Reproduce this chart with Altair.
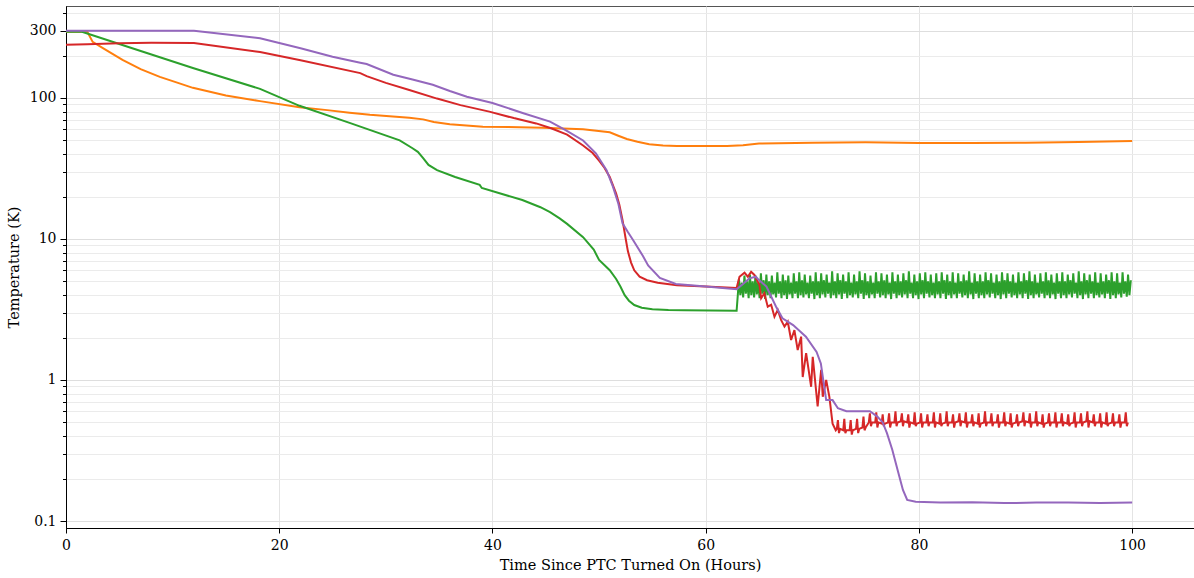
import altair as alt
import pandas as pd

# ---------------- data ----------------
orange_t = [0, 2.0, 2.5, 3.5, 5.3, 7.0, 8.8, 10.5, 11.9, 15, 18.2, 21.9, 24.5, 26.6, 28.5,
            32.2, 33.5, 34.5, 36.0, 39.1, 44.7, 48.5, 51.0, 51.8, 52.6, 53.6, 54.7, 56.0,
            57.3, 62.0, 63.5, 65.0, 70, 75, 80, 85, 90, 95, 100]
orange_y = [295, 295, 250, 225, 186, 160, 141, 128, 118, 104, 95, 86, 82, 78.7, 76,
            72.5, 70.5, 67.5, 65, 62.6, 61.6, 60, 57.1, 54, 51.2, 49, 47.0, 46.0,
            45.7, 45.7, 46.3, 47.5, 48.2, 48.5, 48.0, 48.0, 48.2, 48.8, 49.5]

green_t = [0, 1.5, 6, 11.9, 18.2, 21.9, 26.6, 31.3, 32.5, 33.0, 33.5, 34.0, 34.8, 36.5,
           38.8, 39.0, 42.8, 44.5, 45.4, 46.3, 47.0, 48.5, 49.5, 50.0, 51.0, 51.6, 52.0,
           52.4, 52.8, 53.3, 54.0, 55.0, 56.5, 58, 62.9]
green_y = [295, 295, 228, 163, 116, 88, 66.6, 50, 44, 41.5, 37.5, 33.5, 30.8, 27.5,
           24.2, 23.0, 18.9, 16.8, 15.5, 14.0, 12.8, 10.3, 8.4, 7.1, 6.0, 5.2, 4.6,
           4.0, 3.65, 3.4, 3.25, 3.17, 3.13, 3.12, 3.1]

# green oscillation after 63 h (one cycle ~0.514 h): peak, trough, secondary bump
green_osc_start = 63.0
green_osc_period = 0.514
green_hi = [5.2, 5.5, 5.6, 5.5, 5.7, 5.6, 5.5, 5.8, 5.6, 5.5,
            5.7, 5.8, 5.6, 5.5, 5.8, 5.7, 5.6, 5.9, 5.7, 5.6,
            5.8, 5.6, 5.9, 5.7, 5.5, 5.8, 5.7, 5.6, 5.8, 5.6,
            5.7, 5.9, 5.6, 5.7, 5.8, 5.6, 5.7, 5.8, 5.6, 5.8,
            5.7, 5.6, 5.9, 5.7, 5.6, 5.8, 5.7, 5.6, 5.8, 5.7,
            5.6, 5.8, 5.7, 5.9, 5.6, 5.7, 5.8, 5.6, 5.7, 5.8,
            5.6, 5.7, 5.9, 5.7, 5.6, 5.8, 5.7, 5.6, 5.8, 5.7,
            5.8, 5.6]
green_lo = [3.9, 3.85, 3.8, 3.85, 3.8, 3.75, 3.8, 3.85, 3.8, 3.75,
            3.8, 3.8, 3.85, 3.8, 3.75, 3.8, 3.85, 3.8, 3.8, 3.75,
            3.8, 3.85, 3.8, 3.75, 3.8, 3.8, 3.85, 3.8, 3.75, 3.8,
            3.85, 3.8, 3.8, 3.75, 3.8, 3.85, 3.8, 3.8, 3.75, 3.8,
            3.8, 3.85, 3.8, 3.75, 3.8, 3.8, 3.85, 3.8, 3.75, 3.8,
            3.85, 3.8, 3.8, 3.75, 3.8, 3.85, 3.8, 3.8, 3.75, 3.8,
            3.8, 3.85, 3.8, 3.75, 3.8, 3.8, 3.85, 3.8, 3.75, 3.8,
            3.85, 3.9]
green_sub = [4.9, 5.0, 5.0, 4.9, 5.1, 5.0, 4.9, 5.0, 5.1, 4.9,
             5.0, 5.1, 4.9, 5.0, 5.0, 5.1, 4.9, 5.0, 5.1, 5.0,
             4.9, 5.0, 5.1, 5.0, 4.9, 5.0, 5.1, 4.9, 5.0, 5.0,
             5.1, 4.9, 5.0, 5.1, 5.0, 4.9, 5.0, 5.1, 5.0, 4.9,
             5.0, 5.1, 4.9, 5.0, 5.0, 5.1, 4.9, 5.0, 5.1, 5.0,
             4.9, 5.0, 5.1, 5.0, 4.9, 5.0, 5.1, 4.9, 5.0, 5.0,
             5.1, 4.9, 5.0, 5.1, 5.0, 4.9, 5.0, 5.1, 5.0, 4.9,
             5.0, 5.1]
green_mid = [4.0, 4.1, 4.0, 4.05, 4.1, 4.0, 4.05, 4.1, 4.0, 4.05,
             4.1, 4.0, 4.05, 4.1, 4.0, 4.05, 4.1, 4.0, 4.05, 4.1,
             4.0, 4.05, 4.1, 4.0, 4.05, 4.1, 4.0, 4.05, 4.1, 4.0,
             4.05, 4.1, 4.0, 4.05, 4.1, 4.0, 4.05, 4.1, 4.0, 4.05,
             4.1, 4.0, 4.05, 4.1, 4.0, 4.05, 4.1, 4.0, 4.05, 4.1,
             4.0, 4.05, 4.1, 4.0, 4.05, 4.1, 4.0, 4.05, 4.1, 4.0,
             4.05, 4.1, 4.0, 4.05, 4.1, 4.0, 4.05, 4.1, 4.0, 4.05,
             4.1, 4.0]

red_t = [0, 2, 5, 8, 12, 18.2, 22, 27.6, 28.2, 30.0, 32.2, 34.8, 37.0, 39.7, 42.0, 44.1,
         45.5, 47.0, 48.5, 49.4, 50.0, 50.5, 51.0, 51.6, 51.9, 52.2, 52.5, 52.7, 53.0,
         53.3, 53.8, 54.5, 55.5, 57.3, 60.0, 62.9,
         63.17, 63.64, 63.95, 64.26, 64.57, 65.04, 65.2, 65.5, 65.82, 66.14, 66.45, 66.76,
         67.08, 67.39, 67.7, 68.01, 68.32, 68.63, 68.95, 69.1, 69.42, 69.89, 70.04, 70.5,
         70.83, 70.98, 71.3, 71.6, 71.9, 72.2]
red_y = [238, 240, 244, 246, 245, 212, 185, 150, 143, 128, 114, 99, 89, 80, 72, 66,
         61, 55, 46, 40.7, 36, 32, 27.5, 21, 17.5, 13.6, 10, 8.2, 6.8,
         6.0, 5.4, 5.1, 4.9, 4.7, 4.6, 4.5,
         5.4, 5.77, 5.4, 5.86, 5.56, 4.72, 3.8, 4.12, 3.31, 3.42, 2.81, 3.14,
         2.66, 2.39, 2.59, 1.92, 2.26, 1.63, 2.03, 1.05, 1.55, 0.895, 1.46, 0.65,
         1.18, 0.76, 1.0, 0.76, 0.49, 0.44]

# red oscillation after 72.3 h (one cycle ~0.6 h): baseline, spike up, spike down
red_osc_start = 72.3
red_osc_period = 0.6
red_base = [0.45, 0.44, 0.44, 0.45, 0.46,
            0.50, 0.50, 0.49, 0.50, 0.50, 0.51, 0.50, 0.49, 0.50, 0.50,
            0.50, 0.49, 0.50, 0.50, 0.51, 0.50, 0.50, 0.49, 0.50, 0.50,
            0.50, 0.50, 0.49, 0.50, 0.51, 0.50, 0.50, 0.49, 0.50, 0.50,
            0.50, 0.49, 0.50, 0.50, 0.51, 0.50, 0.50, 0.49, 0.50, 0.50,
            0.50]
red_hi = [0.52, 0.53, 0.52, 0.53, 0.55,
          0.58, 0.59, 0.57, 0.58, 0.60, 0.58, 0.57, 0.59, 0.58, 0.57,
          0.59, 0.58, 0.60, 0.57, 0.58, 0.59, 0.57, 0.58, 0.60, 0.58,
          0.57, 0.59, 0.58, 0.57, 0.59, 0.58, 0.60, 0.57, 0.58, 0.59,
          0.58, 0.57, 0.59, 0.58, 0.60, 0.57, 0.58, 0.59, 0.58, 0.57,
          0.59]
red_lo = [0.42, 0.42, 0.41, 0.42, 0.44,
          0.47, 0.46, 0.47, 0.46, 0.47, 0.47, 0.46, 0.47, 0.46, 0.47,
          0.46, 0.47, 0.47, 0.46, 0.47, 0.46, 0.47, 0.46, 0.47, 0.47,
          0.46, 0.47, 0.46, 0.47, 0.47, 0.46, 0.47, 0.46, 0.47, 0.46,
          0.47, 0.47, 0.46, 0.47, 0.46, 0.47, 0.46, 0.47, 0.47, 0.46,
          0.47]

purple_t = [0, 12, 18.2, 22, 25, 27.6, 28.2, 30.7, 32.5, 34.4, 36.0, 37.6, 40, 42.9, 45.4,
            46.9, 48.5, 49.7, 50.7, 51.3, 51.8, 52.2, 52.7, 53.2, 54.1, 54.6, 55.7, 57.2,
            60.0, 62.9, 63.5, 64.1, 64.7, 64.9, 65.7, 66.6, 67.2, 68.2, 69.4, 70.4, 70.8,
            71.3, 71.9, 72.4, 73.2, 75.4, 76.1, 76.6, 77.0, 77.5, 78.0, 78.5, 78.9, 79.7,
            82, 85, 88, 91, 94, 97, 100]
purple_y = [300, 300, 265, 225, 196, 178, 174, 146, 135, 124, 112, 102, 92, 78, 68,
            59, 50, 40.5, 30.8, 23.5, 17.9, 12.9, 11.2, 9.8, 7.6, 6.5, 5.3, 4.8,
            4.6, 4.4, 4.8, 5.26, 5.4, 5.2, 4.6, 3.31, 2.74, 2.45, 2.03, 1.58, 1.31,
            0.72, 0.72, 0.63, 0.60, 0.60, 0.55, 0.50, 0.42, 0.32, 0.23, 0.166, 0.141, 0.137,
            0.135, 0.136, 0.134, 0.135, 0.135, 0.134, 0.135]

x_ticks = [0, 20, 40, 60, 80, 100]
y_labels = [0.1, 1, 10, 100, 300]
y_minor = [0.1, 0.2, 0.3, 0.4, 0.5, 0.6, 0.7, 0.8, 0.9,
           1, 2, 3, 4, 5, 6, 7, 8, 9,
           10, 20, 30, 40, 50, 60, 70, 80, 90,
           100, 200, 300, 400]

# ---------------- build tables ----------------
g_t, g_y = list(green_t), list(green_y)
for i in range(len(green_hi)):
    s = green_osc_start + i * green_osc_period
    g_t += [s, s + 0.12, s + 0.25, s + 0.38]
    g_y += [green_lo[i], green_hi[i], green_mid[i], green_sub[i]]

r_t, r_y = list(red_t), list(red_y)
for i in range(len(red_base)):
    s = red_osc_start + i * red_osc_period
    r_t += [s, s + 0.1, s + 0.2, s + 0.3]
    r_y += [red_base[i], red_hi[i], red_lo[i], red_base[i]]

df_orange = pd.DataFrame({"t": orange_t, "y": orange_y})
df_green = pd.DataFrame({"t": g_t, "y": g_y})
df_red = pd.DataFrame({"t": r_t, "y": r_y})
df_purple = pd.DataFrame({"t": purple_t, "y": purple_y})

FONT = "DejaVu Serif"

x_enc = alt.X("t:Q",
              scale=alt.Scale(domain=[0, 105.8], nice=False, zero=False),
              axis=alt.Axis(values=x_ticks, title="Time Since PTC Turned On (Hours)",
                            grid=True, gridColor="#e4e4e4", tickSize=5, labelPadding=5,
                            titlePadding=6, format="d", domainColor="black",
                            tickColor="black", labelFlush=False))
y_scale = alt.Scale(type="log", domain=[0.0892, 449], nice=False)

minor_axis = alt.Axis(orient="left", values=y_minor, labels=False, tickSize=3.5,
                      grid=True, gridColor="#ebebeb", title=None, domainColor="black",
                      tickColor="black")
major_axis = alt.Axis(orient="left", values=y_labels, format="~g", tickSize=6,
                      grid=True, gridColor="#dedede", title="Temperature (K)",
                      titlePadding=8, labelPadding=4, domainColor="black",
                      tickColor="black", labelFlush=False)


def line(df, color, axis):
    return alt.Chart(df).mark_line(color=color, strokeWidth=2, clip=True).encode(
        x=x_enc, y=alt.Y("y:Q", scale=y_scale, axis=axis))


chart = alt.layer(
    line(df_orange, "#ff7f0e", minor_axis),
    line(df_green, "#2ca02c", major_axis),
    line(df_red, "#d62728", None),
    line(df_purple, "#9467bd", None),
).resolve_axis(y="independent").resolve_scale(y="shared").properties(
    width=1128, height=522,
    autosize=alt.AutoSizeParams(type="none"),
    padding={"left": 66, "top": 6, "right": 0, "bottom": 50},
).configure_view(stroke="#555555", strokeWidth=1).configure_axis(
    labelFont=FONT, titleFont=FONT, labelFontSize=14, titleFontSize=14.5,
    titleFontWeight="normal", labelColor="black", titleColor="black"
)

chart.save("out.html", embed_options={"renderer": "svg", "actions": False})
